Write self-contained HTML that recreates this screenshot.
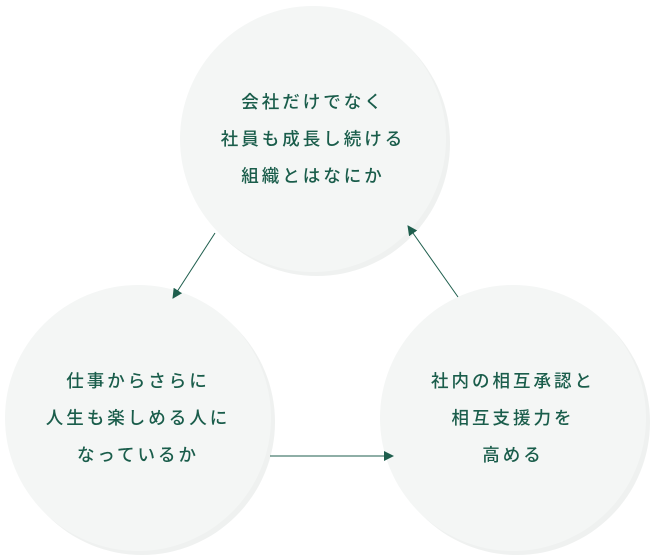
<html><head><style>
body{margin:0;width:650px;height:556px;background:#fff;position:relative;overflow:hidden;font-family:"Liberation Sans","Noto Sans CJK JP",sans-serif}
.c{position:absolute;width:266px;height:266px;border-radius:50%;}
.s{background:#eff1f0}
.m{background:#f4f6f5;display:flex;align-items:center;justify-content:center;text-align:center;color:#1a5d4b;font-size:17.5px;font-weight:500;letter-spacing:3px;line-height:37px}
</style></head><body>
<div class="c s" style="left:184px;top:10px"></div>
<div class="c m" style="left:180px;top:6px">会社だけでなく<br>社員も成長し続ける<br>組織とはなにか</div>
<div class="c s" style="left:9px;top:289px"></div>
<div class="c m" style="left:5px;top:285px">仕事からさらに<br>人生も楽しめる人に<br>なっているか</div>
<div class="c s" style="left:384px;top:289px"></div>
<div class="c m" style="left:380px;top:285px">社内の相互承認と<br>相互支援力を<br>高める</div>
<svg width="650" height="556" style="position:absolute;left:0;top:0">
<defs><marker id="a" markerWidth="10" markerHeight="10" refX="9" refY="5" orient="auto" markerUnits="userSpaceOnUse"><path d="M0,0L10,5L0,10z" fill="#1e5e4d"/></marker></defs>
<g stroke="#1e5e4d" stroke-width="1" marker-end="url(#a)">
<line x1="215" y1="233" x2="173" y2="298"/>
<line x1="458" y1="297" x2="408" y2="226"/>
<line x1="270" y1="456" x2="393" y2="456"/>
</g></svg>
</body></html>
